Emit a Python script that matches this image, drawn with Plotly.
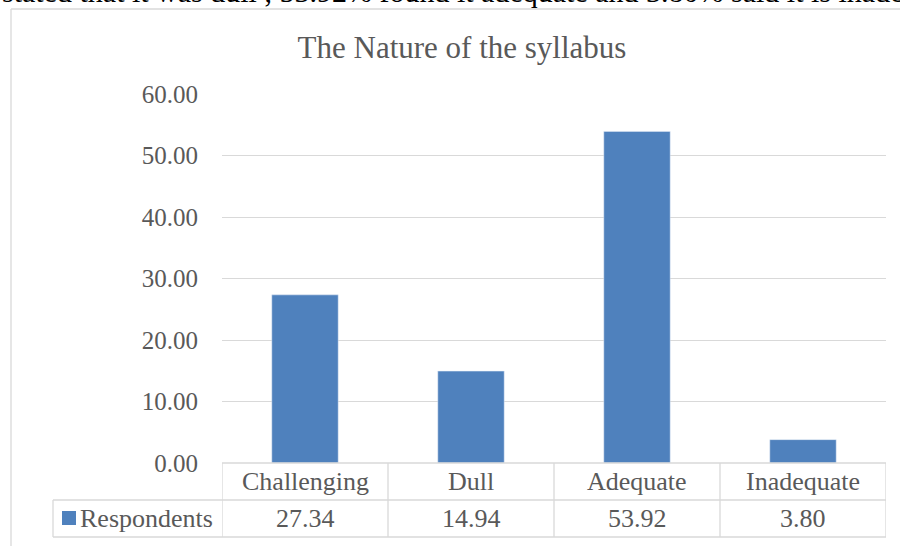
import plotly.graph_objects as go

categories = ["Challenging", "Dull", "Adequate", "Inadequate"]
respondents = [27.34, 14.94, 53.92, 3.80]
y_ticks = [0, 10, 20, 30, 40, 50, 60]
series_name = "Respondents"
chart_title = "The Nature of the syllabus"
page_text = "stated that it was dull , 53.92% found it adequate and 3.80% said it is inadequate"

bar_color = "#4F81BD"
text_color = "#595959"
grid_color = "#D9D9D9"
font_family = "Liberation Serif, Times New Roman, serif"

W, H = 900, 546
L, R, T, B = 222, 886, 94, 463  # plot area in pixels


def xp(px):
    return (px - L) / (R - L)


def yp(py):
    return (B - py) / (B - T)


fig = go.Figure()
fig.add_trace(go.Bar(
    x=categories,
    y=respondents,
    marker_color=bar_color,
    width=0.4,
    name=series_name,
    showlegend=False,
))

shapes = []
line = dict(color=grid_color, width=1.3)
# data table under the plot
row1, row2, row3 = 463, 500, 537
n = len(categories)
shapes.append(dict(type="line", xref="x", yref="paper", x0=-0.5, x1=n - 0.5,
                   y0=yp(row1), y1=yp(row1), line=line))
for ry in (row2, row3):
    shapes.append(dict(type="line", xref="paper", yref="paper", x0=xp(53), x1=1,
                       y0=yp(ry), y1=yp(ry), line=line))
shapes.append(dict(type="line", xref="paper", yref="paper", x0=xp(53), x1=xp(53),
                   y0=yp(row2), y1=yp(row3), line=line))
for i in range(n + 1):
    shapes.append(dict(type="line", xref="x", yref="paper", x0=i - 0.5, x1=i - 0.5,
                       y0=yp(row1), y1=yp(row3), line=line))
# legend key
shapes.append(dict(type="rect", xref="paper", yref="paper", x0=xp(62), x1=xp(76),
                   y0=yp(511), y1=yp(525), fillcolor=bar_color, line=dict(width=0)))
# chart frame (cropped)
shapes.append(dict(type="line", xref="paper", yref="paper", x0=xp(11), x1=xp(11),
                   y0=yp(9), y1=yp(560), line=line))
shapes.append(dict(type="line", xref="paper", yref="paper", x0=xp(11), x1=xp(910),
                   y0=yp(9), y1=yp(9), line=line))

cell_font = dict(size=26, color=text_color, family=font_family)
annotations = []
for cat, val in zip(categories, respondents):
    annotations.append(dict(x=cat, y=yp((row1 + row2) / 2), xref="x", yref="paper",
                            text=cat, showarrow=False, yanchor="middle", font=cell_font))
    annotations.append(dict(x=cat, y=yp((row2 + row3) / 2), xref="x", yref="paper",
                            text=f"{val:.2f}", showarrow=False, yanchor="middle", font=cell_font))
annotations.append(dict(x=xp(78), y=yp((row2 + row3) / 2), xref="paper", yref="paper",
                        text=series_name, showarrow=False, xanchor="left", yanchor="middle",
                        font=cell_font))
# surrounding page text, cut off at the top
annotations.append(dict(x=xp(0), y=yp(10), xref="paper", yref="paper",
                        text=page_text, showarrow=False, xanchor="left", yanchor="bottom",
                        font=dict(size=30, color="black", family=font_family)))

fig.update_layout(
    width=W, height=H,
    margin=dict(l=L, r=W - R, t=T, b=H - B, pad=0),
    paper_bgcolor="white", plot_bgcolor="white",
    title=dict(text=chart_title, xref="paper", x=xp(462), xanchor="center",
               yref="container", y=1 - 47 / H, yanchor="middle",
               font=dict(size=31, color=text_color, family=font_family)),
    bargap=0.6,
    shapes=shapes,
    annotations=annotations,
)
fig.update_xaxes(range=[-0.5, n - 0.5], showticklabels=False, showgrid=False,
                 zeroline=False, showline=False)
fig.update_yaxes(range=[0, 60], tickvals=y_ticks, ticktext=[f"{v:.2f}" for v in y_ticks],
                 showgrid=True, gridcolor=grid_color, gridwidth=1.3, zeroline=False,
                 ticklabelstandoff=23, showline=False,
                 tickfont=dict(size=25, color=text_color, family=font_family))

fig.write_html("out.html", config={"displayModeBar": False},
               post_script="document.body.style.margin='0';")
